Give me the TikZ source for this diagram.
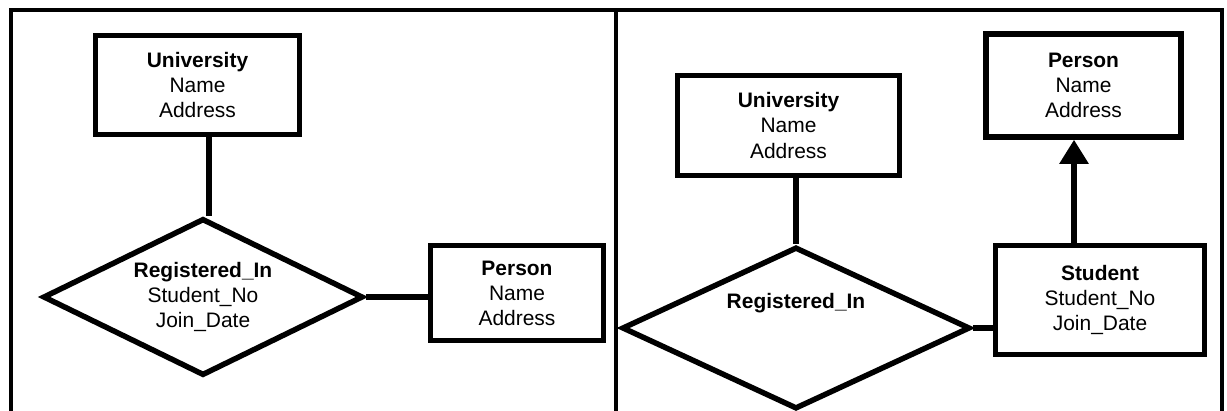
\documentclass[tikz,border=0pt]{standalone}
\usepackage{fontspec}
\setmainfont{Liberation Sans}
\usepackage{tikz}
\usetikzlibrary{shapes.geometric,arrows.meta}

\begin{document}
\begin{tikzpicture}[x=0.025cm, y=-0.025cm,
        entity/.style = {draw=black, line width=3.9pt, text=black, align=center, inner sep=0pt, font=\fontsize{14.9}{17.8}\selectfont},
        rel/.style = {diamond, aspect=2, draw=black, line width=3.9pt, align=center, inner sep=0pt, font=\fontsize{14.9}{17.8}\selectfont},
        link/.style = {draw=black, line width=3.9pt}]
        \useasboundingbox (0,0) rectangle (1227,410);
        % frame of the two panels
        \draw[line width=3.2pt] (11,450) -- (11,10) -- (1222,10) -- (1222,450);
        \draw[line width=3.2pt] (616,10) -- (616,450);
        % left panel
        \node[entity, minimum width=5.1cm, minimum height=2.475cm] (uni1) at (197.5, 85) {\textbf{University}\\Name\\Address};
        \node[rel, minimum width=8cm, minimum height=3.925cm] (reg1) at (203, 297) {\textbf{Registered\_In}\\Student\_No\\Join\_Date};
        \node[entity, minimum width=4.325cm, minimum height=2.375cm] (per1) at (517, 293) {\textbf{Person}\\Name\\Address};
        \draw[link] (209,0 |- uni1.south) -- (209,0 |- reg1.north);
        \draw[link] (reg1.east) -- (reg1.east -| per1.west);
        % right panel
        \node[entity, minimum width=5.55cm, minimum height=2.5cm] (uni2) at (788.5, 125.5) {\textbf{University}\\Name\\Address};
        \node[rel, minimum width=8.7cm, minimum height=4.05cm] (reg2) at (796, 328) {};
        \node[font=\fontsize{14.9}{17.8}\selectfont\bfseries] (reg2text) at (796, 303) {Registered\_In};
        \node[entity, minimum width=4.875cm, minimum height=2.575cm] (per2) at (1083.5, 85.5) {\textbf{Person}\\Name\\Address};
        \node[entity, minimum width=5.225cm, minimum height=2.725cm] (stu2) at (1100, 300) {\textbf{Student}\\Student\_No\\Join\_Date};
        \draw[link] (reg2.north) -- (reg2.north |- uni2.south);
        \draw[link] (reg2.east) -- (reg2.east -| stu2.west);
        \draw[link, -{Triangle[width=0.7cm, length=0.6cm]}] (1074,0 |- stu2.north) -- (1074,0 |- per2.south);
    \end{tikzpicture}
\end{document}
